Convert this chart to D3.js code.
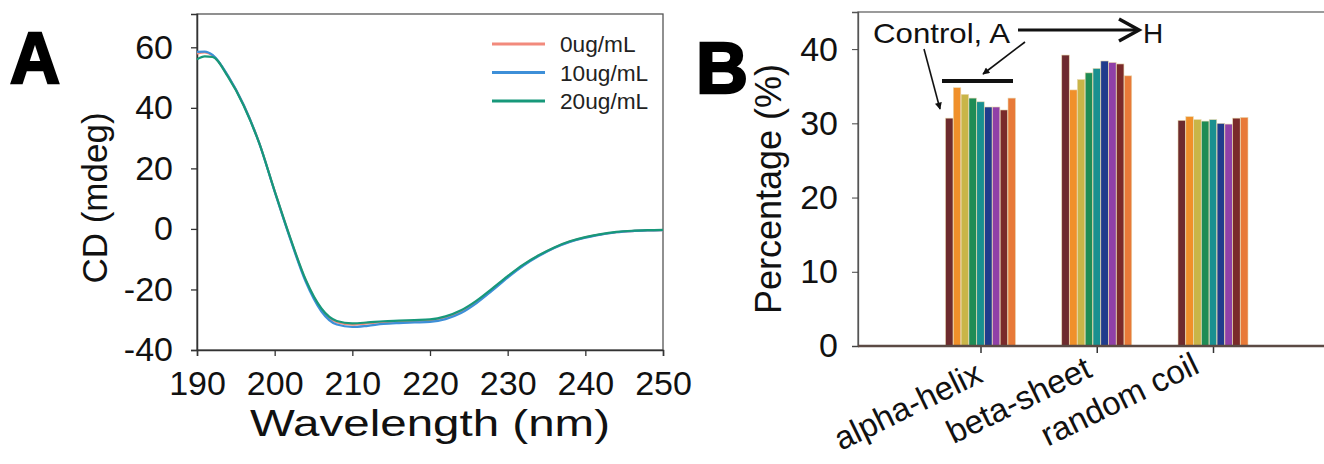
<!DOCTYPE html>
<html>
<head>
<meta charset="utf-8">
<script src="https://cdn.jsdelivr.net/npm/d3@7"></script>
<style>
body { margin: 0; background: #fff; }
svg { display: block; font-family: "Liberation Sans", Arial, sans-serif; }
</style>
</head>
<body>
<script>
// ---- panel A : CD spectra ----
var wavelengths = [190, 191, 192, 194, 196, 198, 200, 202, 204, 206, 208, 210, 212, 214, 216, 218, 220, 222, 224, 226, 228, 230, 232, 234, 236, 238, 240, 242, 244, 246, 248, 250];
var cd0  = [58.0, 58.3, 57.3, 50.5, 41.0, 28.5, 12.5, -3.0, -17.0, -26.5, -30.8, -31.6, -31.2, -30.8, -30.6, -30.4, -30.2, -29.2, -27.2, -24.0, -20.0, -15.8, -12.0, -8.8, -6.2, -4.2, -2.8, -1.8, -1.1, -0.7, -0.5, -0.4];
var cd10 = [58.5, 58.6, 57.5, 50.6, 41.0, 28.4, 12.3, -3.3, -17.5, -27.2, -31.6, -32.4, -32.0, -31.4, -31.1, -30.9, -30.7, -29.8, -27.8, -24.5, -20.4, -16.1, -12.2, -9.0, -6.3, -4.3, -2.9, -1.9, -1.1, -0.7, -0.5, -0.4];
var cd20 = [56.0, 57.0, 56.8, 50.2, 40.8, 28.4, 12.5, -2.9, -16.8, -26.2, -30.4, -31.2, -30.9, -30.5, -30.3, -30.1, -29.9, -28.9, -26.9, -23.7, -19.7, -15.6, -11.8, -8.7, -6.1, -4.1, -2.7, -1.7, -1.0, -0.6, -0.4, -0.3];
var concLabels = ["0ug/mL", "10ug/mL", "20ug/mL"];
var concColors = ["#f28a7c", "#3d8fd8", "#17987a"];
var wlTicks = [190, 200, 210, 220, 230, 240, 250];
var cdTicks = [-40, -20, 0, 20, 40, 60];

// ---- panel B : secondary structure ----
var structures = ["alpha-helix", "beta-sheet", "random coil"];
var samples = ["Control", "A", "B", "C", "D", "E", "F", "G", "H"];
var alphaHelix = [30.7, 34.8, 33.9, 33.4, 32.9, 32.2, 32.2, 31.8, 33.4];
var betaSheet  = [39.2, 34.5, 35.9, 36.8, 37.4, 38.4, 38.2, 38.0, 36.4];
var randomCoil = [30.4, 30.9, 30.5, 30.3, 30.5, 30.0, 29.9, 30.7, 30.8];
var sampleColors = ["#6e2b2e", "#f0902a", "#c9b548", "#1f8c55", "#199090", "#203c8c", "#9040a8", "#7a2a2a", "#e87a38"];
var pctTicks = [0, 10, 20, 30, 40];

var width = 1324, height = 464;
var plain = function(d) { return String(d); };   // hyphen minus, like the figure

var svg = d3.select("body").append("svg")
    .attr("width", width)
    .attr("height", height);

var defs = svg.append("defs");
defs.append("marker")
    .attr("id", "head")
    .attr("viewBox", "0 0 10 10")
    .attr("refX", 9).attr("refY", 5)
    .attr("markerWidth", 8).attr("markerHeight", 7)
    .attr("markerUnits", "userSpaceOnUse")
    .attr("orient", "auto")
  .append("path")
    .attr("d", "M0,0L10,5L0,10z")
    .attr("fill", "#111");

// ================= panel A =================
var ax = d3.scaleLinear().domain([190, 250]).range([197, 663]);
var ay = d3.scaleLinear().domain([-40, 71]).range([350, 14]);

var gA = svg.append("g");

gA.append("rect")
    .attr("x", ax.range()[0]).attr("y", ay.range()[1])
    .attr("width", ax.range()[1] - ax.range()[0])
    .attr("height", ay.range()[0] - ay.range()[1])
    .attr("fill", "none").attr("stroke", "#555").attr("stroke-width", 1.3);

var axLeft = gA.append("g")
    .attr("transform", "translate(" + ax.range()[0] + ",0)")
    .call(d3.axisLeft(ay).tickValues(cdTicks).tickFormat(plain).tickSize(6).tickPadding(18));
var axBottom = gA.append("g")
    .attr("transform", "translate(0," + ay.range()[0] + ")")
    .call(d3.axisBottom(ax).tickValues(wlTicks).tickFormat(plain).tickSize(6).tickPadding(15));

[axLeft, axBottom].forEach(function(g) {
  g.select(".domain").attr("stroke", "#333").attr("stroke-width", 1.5);
  g.selectAll(".tick line").attr("stroke", "#333").attr("stroke-width", 1.3);
  g.selectAll(".tick text").attr("font-size", 34).attr("fill", "#111");
});

var series = [cd0, cd10, cd20];
var line = d3.line()
    .x(function(d, i) { return ax(wavelengths[i]); })
    .y(function(d) { return ay(d); })
    .curve(d3.curveMonotoneX);

gA.selectAll(".cd")
    .data(series)
  .enter().append("path")
    .attr("class", "cd")
    .attr("d", line)
    .attr("fill", "none")
    .attr("stroke", function(d, i) { return concColors[i]; })
    .attr("stroke-width", 2.2);

// legend
var leg = gA.selectAll(".leg")
    .data(concLabels)
  .enter().append("g")
    .attr("class", "leg")
    .attr("transform", function(d, i) { return "translate(492," + (44 + i * 28.5) + ")"; });
leg.append("line")
    .attr("x1", 0).attr("x2", 53)
    .attr("stroke", function(d, i) { return concColors[i]; })
    .attr("stroke-width", 3);
leg.append("text")
    .attr("x", 68).attr("y", 8)
    .attr("font-size", 22)
    .attr("textLength", function(d) { return d.length * 12.6; })
    .attr("lengthAdjust", "spacingAndGlyphs")
    .attr("fill", "#222")
    .text(function(d) { return d; });

gA.append("text")
    .attr("x", (ax.range()[0] + ax.range()[1]) / 2)
    .attr("y", 436)
    .attr("text-anchor", "middle")
    .attr("font-size", 37)
    .attr("textLength", 360)
    .attr("lengthAdjust", "spacingAndGlyphs")
    .attr("fill", "#111")
    .text("Wavelength (nm)");

gA.append("text")
    .attr("transform", "translate(107," + ((ay.range()[0] + ay.range()[1]) / 2 + 16) + ") rotate(-90)")
    .attr("text-anchor", "middle")
    .attr("font-size", 35)
    .attr("fill", "#111")
    .text("CD (mdeg)");

gA.append("text")
    .attr("x", 10).attr("y", 83)
    .attr("font-size", 72)
    .attr("font-weight", "bold")
    .attr("textLength", 50)
    .attr("lengthAdjust", "spacingAndGlyphs")
    .attr("stroke", "#000").attr("stroke-width", 2.5)
    .text("A");

// ================= panel B =================
var bx = d3.scalePoint().domain(structures).range([980.5, 1213]);
var inner = d3.scaleBand().domain(samples).range([-35, 35]).paddingInner(0.04);
var by = d3.scaleLinear().domain([0, 45]).range([346, 12]);

var table = structures.map(function(s, i) {
  return { name: s, values: [alphaHelix, betaSheet, randomCoil][i] };
});

var gB = svg.append("g");

gB.append("rect")
    .attr("x", 858).attr("y", by.range()[1])
    .attr("width", 480)
    .attr("height", by.range()[0] - by.range()[1])
    .attr("fill", "none").attr("stroke", "#666").attr("stroke-width", 1.3);

var byAxis = gB.append("g")
    .attr("transform", "translate(858,0)")
    .call(d3.axisLeft(by).tickValues(pctTicks).tickFormat(plain).tickSize(6).tickPadding(14));
byAxis.select(".domain").attr("stroke", "#555").attr("stroke-width", 1.3);
byAxis.selectAll(".tick line").attr("stroke", "#444");
byAxis.selectAll(".tick text").attr("font-size", 34).attr("fill", "#111");

var groups = gB.selectAll(".grp")
    .data(table)
  .enter().append("g")
    .attr("class", "grp")
    .attr("transform", function(d) { return "translate(" + bx(d.name) + ",0)"; });

groups.selectAll("rect")
    .data(function(d) { return d.values; })
  .enter().append("rect")
    .attr("x", function(d, i) { return inner(samples[i]); })
    .attr("width", inner.bandwidth())
    .attr("y", function(d) { return by(d); })
    .attr("height", function(d) { return by(0) - by(d); })
    .attr("fill", function(d, i) { return sampleColors[i]; })
    .attr("stroke", "#e9d9b0").attr("stroke-width", 0.6);

// baseline and category ticks
var bxAxis = gB.append("g")
    .attr("transform", "translate(0," + by(0) + ")")
    .call(d3.axisBottom(bx).tickSize(7).tickFormat(""));
bxAxis.select(".domain").remove();
bxAxis.selectAll(".tick line").attr("stroke", "#333").attr("stroke-width", 1.5);

gB.append("line")
    .attr("x1", 858).attr("x2", width)
    .attr("y1", by(0)).attr("y2", by(0))
    .attr("stroke", "#5b4a44").attr("stroke-width", 2.6);

gB.selectAll(".cat")
    .data(structures)
  .enter().append("text")
    .attr("class", "cat")
    .attr("transform", function(d, i) { return "translate(" + (bx(d) + [4, -3, -12][i]) + "," + [381, 376, 372][i] + ") rotate(-26)"; })
    .attr("text-anchor", "end")
    .attr("font-size", 33)
    .attr("fill", "#111")
    .text(function(d) { return d; });

gB.append("text")
    .attr("transform", "translate(781," + ((by.range()[0] + by.range()[1]) / 2 + 10) + ") rotate(-90)")
    .attr("text-anchor", "middle")
    .attr("font-size", 36)
    .attr("fill", "#111")
    .text("Percentage (%)");

gB.append("text")
    .attr("x", 696).attr("y", 93)
    .attr("font-size", 72)
    .attr("font-weight", "bold")
    .attr("stroke", "#000").attr("stroke-width", 2.5)
    .text("B");

// annotations
gB.append("text")
    .attr("x", 873).attr("y", 43)
    .attr("font-size", 28)
    .attr("textLength", 137)
    .attr("lengthAdjust", "spacingAndGlyphs")
    .attr("fill", "#111")
    .text("Control, A");
gB.append("line")
    .attr("x1", 1018).attr("x2", 1137)
    .attr("y1", 30).attr("y2", 30)
    .attr("stroke", "#111").attr("stroke-width", 3);
gB.append("path")
    .attr("d", "M1119,19L1139,30L1119,41")
    .attr("fill", "none").attr("stroke", "#111").attr("stroke-width", 3.5);
gB.append("text")
    .attr("x", 1143).attr("y", 43)
    .attr("font-size", 28)
    .attr("fill", "#111")
    .text("H");

gB.append("line")
    .attr("x1", 924).attr("y1", 49).attr("x2", 940).attr("y2", 109)
    .attr("stroke", "#111").attr("stroke-width", 1.6)
    .attr("marker-end", "url(#head)");
gB.append("line")
    .attr("x1", 1025).attr("y1", 42).attr("x2", 983).attr("y2", 74)
    .attr("stroke", "#111").attr("stroke-width", 1.6)
    .attr("marker-end", "url(#head)");
gB.append("line")
    .attr("x1", 942).attr("x2", 1013)
    .attr("y1", 81).attr("y2", 81)
    .attr("stroke", "#111").attr("stroke-width", 4);
</script>
</body>
</html>
